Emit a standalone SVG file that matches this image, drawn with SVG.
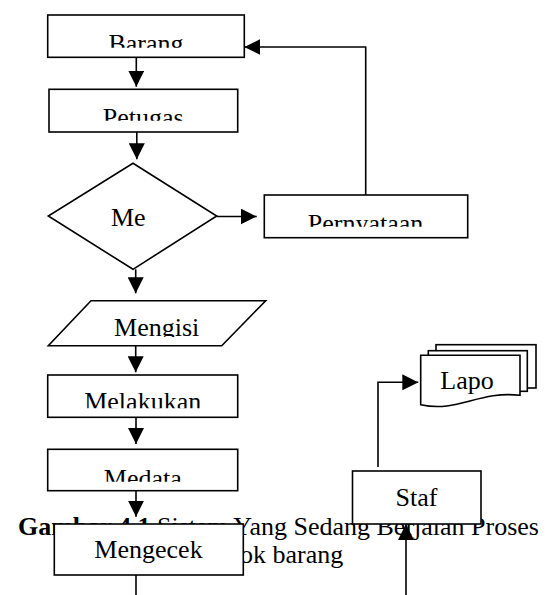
<svg xmlns="http://www.w3.org/2000/svg" width="558" height="595" viewBox="0 0 558 595">
<style>
.box{fill:#fff;stroke:#000;stroke-width:1.6}
.t{font-family:"Liberation Serif","Times New Roman",serif;font-size:26px;fill:#000;text-anchor:middle}
.cap{font-family:"Liberation Serif","Times New Roman",serif;font-size:26px;fill:#000}
.ln{fill:none;stroke:#000;stroke-width:1.6}
</style>
<defs>
<marker id="ah" markerUnits="userSpaceOnUse" markerWidth="16" markerHeight="16" viewBox="0 0 15 15" refX="15" refY="7.5" orient="auto">
<path d="M0,0 L15,7.5 L0,15 Z" fill="#000"/>
</marker>
<clipPath id="cBarang"><rect x="40" y="10" width="220" height="37.7"/></clipPath>
<clipPath id="cPetugas"><rect x="40" y="85" width="220" height="35.7"/></clipPath>
<clipPath id="cPern"><rect x="260" y="190" width="220" height="36.7"/></clipPath>
<clipPath id="cMengisi"><rect x="40" y="298" width="240" height="39"/></clipPath>
<clipPath id="cMelakukan"><rect x="40" y="372" width="220" height="36.3"/></clipPath>
<clipPath id="cMedata"><rect x="40" y="445" width="220" height="36.7"/></clipPath>
</defs>

<g id="caption">
<text class="cap" x="18" y="535"><tspan font-weight="bold">Gambar 4.1</tspan> Sistem Yang Sedang Berjalan Proses</text>
<text class="cap" x="240" y="563">ok barang</text>
</g>

<g id="barang">
<rect class="box" x="47.7" y="15" width="196.6" height="42.3"/>
<text class="t" x="146" y="51.5" clip-path="url(#cBarang)">Barang</text>
</g>
<g id="petugas">
<rect class="box" x="49" y="89.3" width="188.7" height="42.7"/>
<text class="t" x="143.3" y="125.5" clip-path="url(#cPetugas)">Petugas</text>
</g>
<g id="me">
<polygon class="box" points="133,163.3 216.7,216 133,269.3 48.3,216"/>
<text class="t" x="128.3" y="226">Me</text>
</g>
<g id="pernyataan">
<rect class="box" x="264.3" y="195" width="203.4" height="42.7"/>
<text class="t" x="365.5" y="231.5" clip-path="url(#cPern)">Pernyataan</text>
</g>
<g id="mengisi">
<polygon class="box" points="91,300.7 265.7,300.7 221.7,345.7 48.3,345.7"/>
<text class="t" x="156.7" y="336" clip-path="url(#cMengisi)">Mengisi</text>
</g>
<g id="melakukan">
<rect class="box" x="47.7" y="375" width="190" height="42.3"/>
<text class="t" x="142.7" y="409.9" clip-path="url(#cMelakukan)">Melakukan</text>
</g>
<g id="medata">
<rect class="box" x="47.7" y="449.3" width="190" height="41.4"/>
<text class="t" x="142.8" y="487" clip-path="url(#cMedata)">Medata</text>
</g>
<g id="mengecek">
<rect class="box" x="54.3" y="524" width="189" height="51"/>
<text class="t" x="148.5" y="558">Mengecek</text>
</g>
<g id="staf">
<rect class="box" x="352.5" y="471" width="128.5" height="53"/>
<text class="t" x="416.5" y="506">Staf</text>
</g>
<g id="lapo">
<rect class="box" x="436" y="344.7" width="100" height="43.3"/>
<rect class="box" x="428.3" y="350.7" width="99" height="40.6"/>
<path class="box" d="M420.7,355.3 H520 V395.3 C500,393 485,397 470,401 C455,405 440,409 420.7,404.7 Z"/>
<text class="t" x="467" y="388.7">Lapo</text>
</g>

<g id="connectors">
<path class="ln" d="M136.3,57.3 V86.7" marker-end="url(#ah)"/>
<path class="ln" d="M136.8,132 V159.3" marker-end="url(#ah)"/>
<path class="ln" d="M216.7,216.5 H256.7" marker-end="url(#ah)"/>
<path class="ln" d="M365.7,195 V47 H244.3" marker-end="url(#ah)"/>
<path class="ln" d="M135.7,269.3 V293.3" marker-end="url(#ah)"/>
<path class="ln" d="M135.7,345.7 V372.3" marker-end="url(#ah)"/>
<path class="ln" d="M136,417.3 V444" marker-end="url(#ah)"/>
<path class="ln" d="M136,490.7 V516.7" marker-end="url(#ah)"/>
<path class="ln" d="M136,575 V595"/>
<path class="ln" d="M378,467 V382.3 H418.3" marker-end="url(#ah)"/>
<path class="ln" d="M406,595 V524" marker-end="url(#ah)"/>
</g>
</svg>
